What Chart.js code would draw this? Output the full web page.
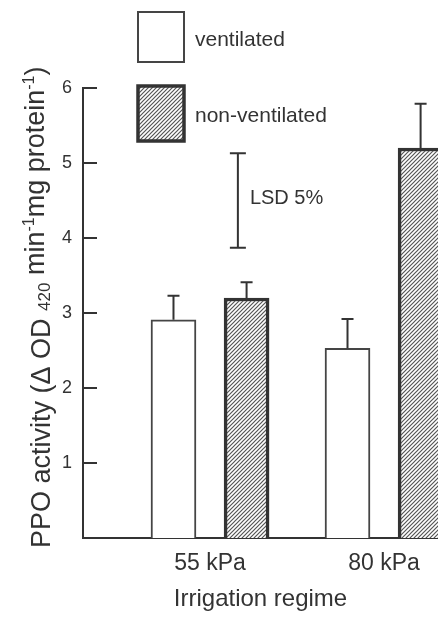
<!DOCTYPE html>
<html>
<head>
<meta charset="utf-8">
<script src="https://cdn.jsdelivr.net/npm/chart.js@4.4.1/dist/chart.umd.min.js"></script>
<style>
  html, body { margin: 0; padding: 0; background: #fff; overflow: hidden; }
  canvas { display: block; }
</style>
</head>
<body>
<canvas id="myChart" width="438" height="622"></canvas>
<script>
// Data
const categories = ['55 kPa', '80 kPa'];
const groupPos = [1, 2];
const ventilated = [2.91, 2.53];
const ventilatedErr = [0.32, 0.39];
const nonVentilated = [3.2, 5.2];
const nonVentilatedErr = [0.21, 0.59];
const lsdRange = [3.87, 5.13];
const yTicks = [1, 2, 3, 4, 5, 6];

const FONT = "'Liberation Sans', Arial, Helvetica, sans-serif";
const INK = '#333333';

// Diagonal hatch pattern for the non-ventilated bars
function makeHatch() {
  const c = document.createElement('canvas');
  c.width = 4;
  c.height = 4;
  const g = c.getContext('2d');
  g.fillStyle = '#fff';
  g.fillRect(0, 0, 4, 4);
  g.strokeStyle = '#555';
  g.lineWidth = 1.2;
  g.beginPath();
  g.moveTo(-1, 5); g.lineTo(5, -1);
  g.moveTo(-1, 1); g.lineTo(1, -1);
  g.moveTo(3, 5); g.lineTo(5, 3);
  g.stroke();
  return g.createPattern(c, 'repeat');
}

const ctx = document.getElementById('myChart').getContext('2d');
const hatch = makeHatch();

const toPoints = (vals, shift) => vals.map((v, i) => ({ x: groupPos[i] + shift, y: v }));

// Error bars (upper half only)
const errorBars = {
  id: 'errorBars',
  afterDatasetsDraw(chart) {
    const y = chart.scales.y;
    const errs = [ventilatedErr, nonVentilatedErr];
    const c = chart.ctx;
    c.save();
    c.strokeStyle = INK;
    c.lineWidth = 2;
    chart.data.datasets.forEach((ds, di) => {
      chart.getDatasetMeta(di).data.forEach((bar, i) => {
        const top = y.getPixelForValue(ds.data[i].y + errs[di][i]);
        c.beginPath();
        c.moveTo(bar.x, bar.y);
        c.lineTo(bar.x, top);
        c.moveTo(bar.x - 6, top);
        c.lineTo(bar.x + 6, top);
        c.stroke();
      });
    });
    c.restore();
  }
};

// Inward tick marks, LSD bar, legend and y title
const decorations = {
  id: 'decorations',
  afterDraw(chart) {
    const c = chart.ctx;
    const x = chart.scales.x;
    const y = chart.scales.y;
    const left = chart.chartArea.left;
    c.save();
    c.strokeStyle = INK;
    c.fillStyle = INK;
    c.lineWidth = 2;

    // ticks pointing into the plot
    yTicks.forEach(v => {
      const py = y.getPixelForValue(v);
      c.beginPath();
      c.moveTo(left, py);
      c.lineTo(left + 14, py);
      c.stroke();
    });

    // LSD 5% bar
    const lx = x.getPixelForValue(1.16);
    const lTop = y.getPixelForValue(lsdRange[1]);
    const lBot = y.getPixelForValue(lsdRange[0]);
    c.beginPath();
    c.moveTo(lx, lTop); c.lineTo(lx, lBot);
    c.moveTo(lx - 8, lTop); c.lineTo(lx + 8, lTop);
    c.moveTo(lx - 8, lBot); c.lineTo(lx + 8, lBot);
    c.stroke();
    c.font = '20px ' + FONT;
    c.textBaseline = 'middle';
    c.textAlign = 'left';
    c.fillText('LSD 5%', lx + 12, y.getPixelForValue((lsdRange[0] + lsdRange[1]) / 2) - 2);

    // legend
    const boxes = [{ top: 12, h: 50 }, { top: 86, h: 55 }];
    chart.data.datasets.forEach((ds, i) => {
      const b = boxes[i];
      c.fillStyle = ds.backgroundColor;
      c.fillRect(138, b.top, 46, b.h);
      c.strokeStyle = ds.borderColor;
      c.lineWidth = ds.borderWidth;
      c.strokeRect(138, b.top, 46, b.h);
      c.fillStyle = INK;
      c.font = '21px ' + FONT;
      c.fillText(ds.label, 195, b.top + b.h / 2 + 3);
    });

    // y axis title with sub/superscripts
    c.translate(50, 548);
    c.rotate(-Math.PI / 2);
    c.textBaseline = 'alphabetic';
    c.fillStyle = INK;
    const parts = [
      { t: 'PPO activity (\u0394 OD ', size: 27, dy: 0 },
      { t: '420', size: 17, dy: 0 },
      { t: ' min', size: 27, dy: -6 },
      { t: '-1', size: 16, dy: -16 },
      { t: 'mg protein', size: 27, dy: -6 },
      { t: '-1', size: 16, dy: -16 },
      { t: ')', size: 27, dy: -6 }
    ];
    let px = 0;
    parts.forEach(p => {
      c.font = p.size + 'px ' + FONT;
      c.fillText(p.t, px, p.dy);
      px += c.measureText(p.t).width;
    });
    c.restore();
  }
};

new Chart(ctx, {
  type: 'bar',
  data: {
    datasets: [
      {
        label: 'ventilated',
        data: toPoints(ventilated, -0.21),
        backgroundColor: '#ffffff',
        borderColor: '#454545',
        borderWidth: 2,
        borderSkipped: 'bottom'
      },
      {
        label: 'non-ventilated',
        data: toPoints(nonVentilated, 0.21),
        backgroundColor: hatch,
        borderColor: '#333333',
        borderWidth: 3.5,
        borderSkipped: 'bottom'
      }
    ]
  },
  options: {
    responsive: false,
    animation: false,
    events: [],
    layout: { padding: { top: 88, right: 0, bottom: 0, left: 0 } },
    datasets: { bar: { grouped: false, barThickness: 45 } },
    plugins: { legend: { display: false }, tooltip: { enabled: false } },
    scales: {
      x: {
        type: 'linear',
        min: 0.27,
        max: 2.31,
        offset: false,
        grid: { display: false, drawTicks: false, offset: false },
        border: { display: true, color: INK, width: 2 },
        afterBuildTicks: axis => { axis.ticks = groupPos.map(v => ({ value: v })); },
        afterFit: axis => { axis.height = 84; },
        ticks: {
          autoSkip: false,
          maxRotation: 0,
          padding: 12,
          color: INK,
          font: { family: FONT, size: 23 },
          callback: (v, i) => categories[i]
        },
        title: {
          display: true,
          text: 'Irrigation regime',
          color: INK,
          font: { family: FONT, size: 24 },
          padding: { top: 16, bottom: 8 }
        }
      },
      y: {
        min: 0,
        max: 6,
        grid: { display: false, drawTicks: false },
        border: { display: true, color: INK, width: 2 },
        afterFit: axis => { axis.width = 83; },
        ticks: {
          stepSize: 1,
          padding: 11,
          color: INK,
          font: { family: FONT, size: 18 },
          callback: v => (v === 0 ? '' : v)
        }
      }
    }
  },
  plugins: [errorBars, decorations]
});
</script>
</body>
</html>
